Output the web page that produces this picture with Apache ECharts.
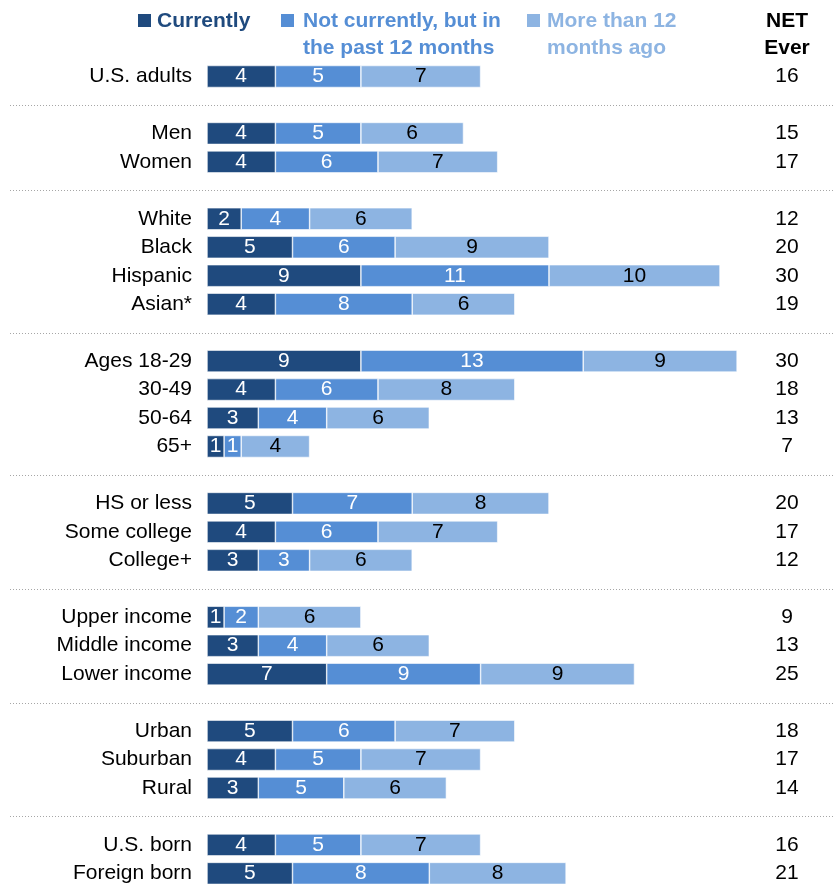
<!DOCTYPE html>
<html>
<head>
<meta charset="utf-8">
<script src="https://cdn.jsdelivr.net/npm/echarts@6/dist/echarts.min.js"></script>
<style>
  html, body { margin: 0; padding: 0; background: #fff; overflow: hidden; }
  #chart { width: 835px; height: 900px; }
</style>
</head>
<body>
<div id="chart"></div>
<script>
// Rows in display order; empty strings are spacer rows between groups.
const categories = [
  'U.S. adults', '',
  'Men', 'Women', '',
  'White', 'Black', 'Hispanic', 'Asian*', '',
  'Ages 18-29', '30-49', '50-64', '65+', '',
  'HS or less', 'Some college', 'College+', '',
  'Upper income', 'Middle income', 'Lower income', '',
  'Urban', 'Suburban', 'Rural', '',
  'U.S. born', 'Foreign born'
];
const currently = [4, null, 4, 4, null, 2, 5, 9, 4, null, 9, 4, 3, 1, null, 5, 4, 3, null, 1, 3, 7, null, 5, 4, 3, null, 4, 5];
const pastYear  = [5, null, 5, 6, null, 4, 6, 11, 8, null, 13, 6, 4, 1, null, 7, 6, 3, null, 2, 4, 9, null, 6, 5, 5, null, 5, 8];
const olderThanYear = [7, null, 6, 7, null, 6, 9, 10, 6, null, 9, 8, 6, 4, null, 8, 7, 6, null, 6, 6, 9, null, 7, 7, 6, null, 7, 8];
const netEver   = [16, null, 15, 17, null, 12, 20, 30, 19, null, 30, 18, 13, 7, null, 20, 17, 12, null, 9, 13, 25, null, 18, 17, 14, null, 16, 21];

const seriesNames = ['Currently', 'Not currently, but in\nthe past 12 months', 'More than 12\nmonths ago'];
const colors = ['#1f4a7e', '#558ed5', '#8db4e2'];
const labelColors = ['#ffffff', '#ffffff', '#000000'];

const FONT = '"Liberation Sans", Arial, sans-serif';
const ROW = 28.46;
const UNIT = 17.1;
const X_MAX = 32;
const GRID_LEFT = 207;
const GRID_TOP = 76.5 - ROW / 2;

const chart = echarts.init(document.getElementById('chart'), null, { renderer: 'canvas' });

function barSeries(i, data) {
  return {
    name: seriesNames[i],
    type: 'bar',
    stack: 'total',
    barWidth: 22,
    data: data,
    itemStyle: { color: colors[i], borderColor: '#ffffff', borderWidth: 0.6 },
    label: {
      show: true,
      position: 'inside',
      color: labelColors[i],
      fontFamily: FONT,
      fontSize: 21,
      formatter: p => (p.value == null ? '' : String(p.value))
    },
    silent: true,
    animation: false
  };
}

chart.setOption({
  animation: false,
  grid: {
    left: GRID_LEFT,
    top: GRID_TOP,
    width: X_MAX * UNIT,
    height: categories.length * ROW,
    containLabel: false
  },
  xAxis: {
    type: 'value',
    min: 0,
    max: X_MAX,
    show: false
  },
  yAxis: [
    {
      type: 'category',
      data: categories,
      inverse: true,
      axisLine: { show: false },
      axisTick: { show: false },
      splitLine: { show: false },
      axisLabel: {
        margin: 15,
        color: '#000',
        fontFamily: FONT,
        fontSize: 21
      }
    },
    {
      type: 'category',
      data: categories,
      inverse: true,
      position: 'right',
      axisLine: { show: false },
      axisTick: { show: false },
      splitLine: { show: false },
      axisLabel: {
        margin: 787 - (GRID_LEFT + X_MAX * UNIT),
        align: 'center',
        color: '#000',
        fontFamily: FONT,
        fontSize: 21,
        formatter: (value, idx) => (netEver[idx] == null ? '' : String(netEver[idx]))
      }
    }
  ],
  series: [
    barSeries(0, currently),
    barSeries(1, pastYear),
    barSeries(2, olderThanYear)
  ]
});

// Legend, NET header and dotted group separators
const graphics = [];
const legendItems = [
  { sq: 138, tx: 157 },
  { sq: 281, tx: 303 },
  { sq: 527, tx: 547 }
];
legendItems.forEach((it, i) => {
  graphics.push({
    type: 'rect',
    shape: { x: it.sq, y: 14, width: 13, height: 13 },
    style: { fill: colors[i] },
    silent: true
  });
  graphics.push({
    type: 'text',
    x: it.tx,
    y: 8,
    style: {
      text: seriesNames[i],
      fill: colors[i],
      font: 'bold 21px ' + FONT,
      lineHeight: 27,
      textVerticalAlign: 'top'
    },
    silent: true
  });
});
graphics.push({
  type: 'text',
  x: 787,
  y: 8,
  style: {
    text: 'NET\nEver',
    fill: '#000',
    font: 'bold 21px ' + FONT,
    lineHeight: 27,
    align: 'center',
    textVerticalAlign: 'top'
  },
  silent: true
});

categories.forEach((c, idx) => {
  if (c !== '') return;
  const y = Math.round(chart.convertToPixel({ yAxisIndex: 0 }, idx)) + 0.5;
  graphics.push({
    type: 'line',
    shape: { x1: 10, y1: y, x2: 835, y2: y },
    style: { stroke: '#a6a6a6', lineWidth: 1, lineDash: [1, 2] },
    silent: true
  });
});

chart.setOption({ graphic: graphics });
</script>
</body>
</html>
